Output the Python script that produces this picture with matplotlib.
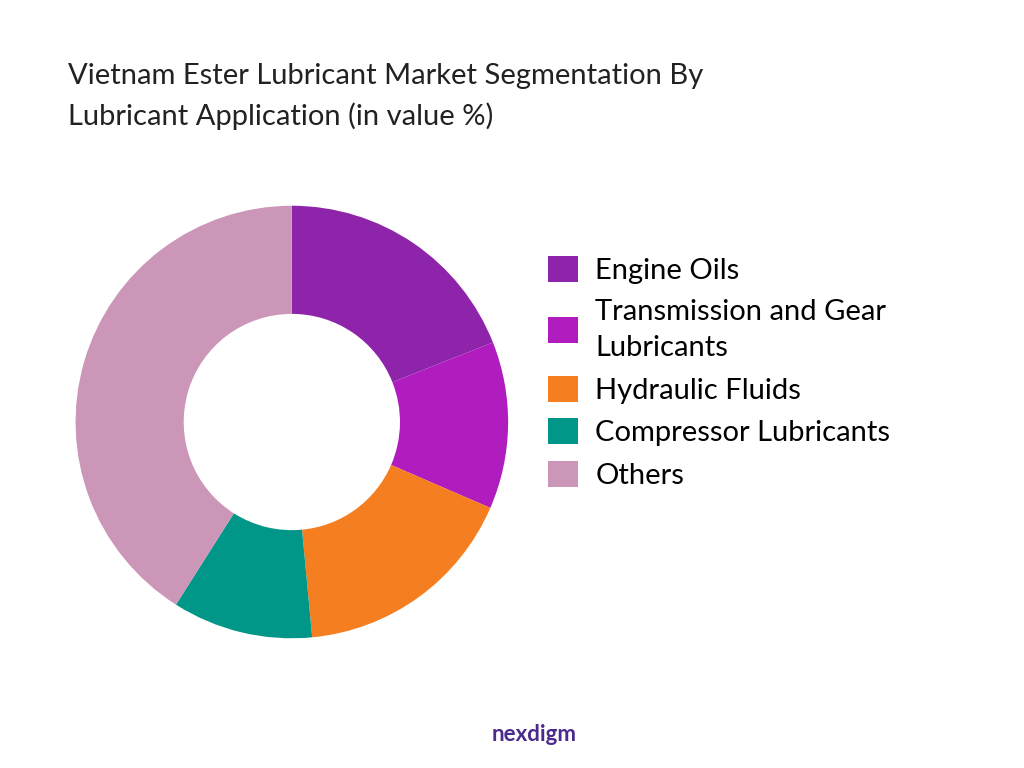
import matplotlib.pyplot as plt

labels = ["Engine Oils", "Transmission and Gear\nLubricants", "Hydraulic Fluids",
          "Compressor Lubricants", "Others"]
shares = [19, 12.5, 17, 10.5, 41]
colors = ["#8e24aa", "#b01cbe", "#f57f20", "#009688", "#cc96b8"]

plt.rcParams['font.family'] = ['Lato', 'DejaVu Sans']
fig = plt.figure(figsize=(10.24, 7.68), dpi=100)

fig.text(0.066, 0.874, "Vietnam Ester Lubricant Market Segmentation By\nLubricant Application (in value %)",
         fontsize=21, color="#222222", va="center", linespacing=1.6)

ax = fig.add_axes([0.021, 0.098, 0.528, 0.705])
wedges, _ = ax.pie(shares, colors=colors, startangle=90, counterclock=False,
                   wedgeprops=dict(width=0.5))
ax.set_aspect("equal")

fig.legend(wedges, labels, loc="center left", bbox_to_anchor=(0.51, 0.515),
           frameon=False, fontsize=21, handlelength=1.0, handleheight=1.0,
           labelspacing=0.5, handletextpad=0.6, prop=dict(size=21))
for t in fig.legends[0].get_texts():
    t.set_linespacing(1.5)

fig.text(0.48, 0.035, "nexdigm", fontsize=16, color="#4a2a8a", fontweight="bold")

fig.savefig("out.png")
